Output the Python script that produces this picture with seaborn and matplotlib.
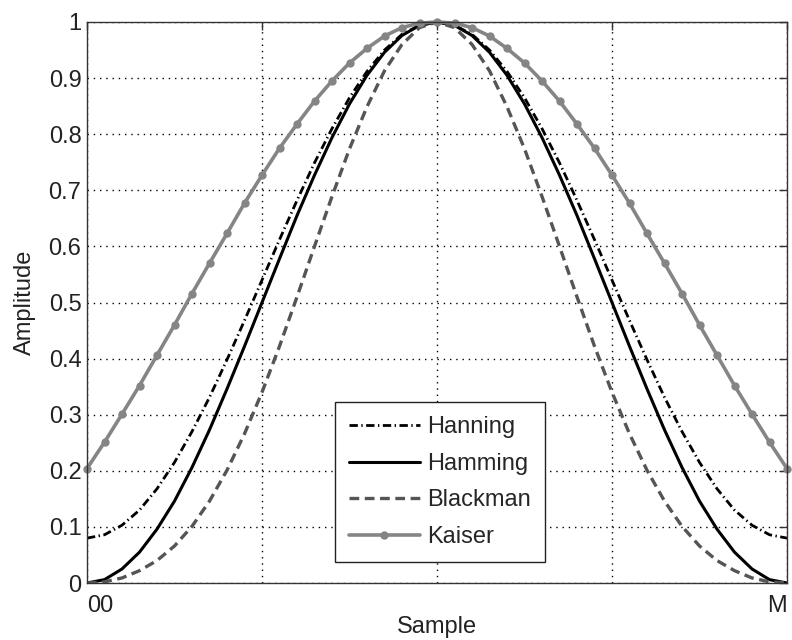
import matplotlib
matplotlib.use("Agg")
import matplotlib.pyplot as plt
import seaborn as sns
import pandas as pd

# Sample index 0..40 (x axis runs from 0 to M)
sample = list(range(41))

hanning = [0.080, 0.086, 0.103, 0.130, 0.168, 0.215, 0.270, 0.331, 0.398, 0.468,
           0.540, 0.612, 0.682, 0.749, 0.810, 0.865, 0.912, 0.950, 0.978, 0.994,
           1.000,
           0.994, 0.978, 0.950, 0.912, 0.865, 0.810, 0.749, 0.682, 0.612, 0.540,
           0.468, 0.398, 0.331, 0.270, 0.215, 0.168, 0.130, 0.103, 0.086, 0.080]

hamming = [0.000, 0.006, 0.025, 0.055, 0.096, 0.146, 0.206, 0.273, 0.346, 0.422,
           0.500, 0.578, 0.655, 0.727, 0.794, 0.854, 0.905, 0.946, 0.976, 0.994,
           1.000,
           0.994, 0.976, 0.946, 0.905, 0.854, 0.794, 0.727, 0.655, 0.578, 0.500,
           0.422, 0.346, 0.273, 0.206, 0.146, 0.096, 0.055, 0.025, 0.006, 0.000]

blackman = [0.000, 0.002, 0.009, 0.022, 0.040, 0.066, 0.101, 0.146, 0.201, 0.266,
            0.340, 0.422, 0.510, 0.600, 0.689, 0.774, 0.849, 0.913, 0.960, 0.990,
            1.000,
            0.990, 0.960, 0.913, 0.849, 0.774, 0.689, 0.600, 0.510, 0.422, 0.340,
            0.266, 0.201, 0.146, 0.101, 0.066, 0.040, 0.022, 0.009, 0.002, 0.000]

kaiser = [0.204, 0.251, 0.301, 0.352, 0.406, 0.460, 0.516, 0.570, 0.623, 0.677,
          0.727, 0.775, 0.818, 0.859, 0.895, 0.927, 0.953, 0.975, 0.990, 0.998,
          1.000,
          0.998, 0.990, 0.975, 0.953, 0.927, 0.895, 0.859, 0.818, 0.775, 0.727,
          0.677, 0.623, 0.570, 0.516, 0.460, 0.406, 0.352, 0.301, 0.251, 0.204]

x_tick_pos = [0, 10, 20, 30, 40]
x_tick_labels = ["00", "", "", "", "M"]
y_ticks = [0, 0.1, 0.2, 0.3, 0.4, 0.5, 0.6, 0.7, 0.8, 0.9, 1]
y_tick_labels = ["0", "0.1", "0.2", "0.3", "0.4", "0.5", "0.6", "0.7", "0.8", "0.9", "1"]

df = pd.DataFrame({"Sample": sample, "Hanning": hanning, "Hamming": hamming,
                   "Blackman": blackman, "Kaiser": kaiser})

sns.set_theme(style="white")
plt.rcParams["font.family"] = ["Liberation Sans", "DejaVu Sans"]
plt.rcParams["lines.scale_dashes"] = False

fig = plt.figure(figsize=(7.92, 6.4), dpi=100)
ax = fig.add_axes([87 / 792, 57 / 640, 700 / 792, 561 / 640])

sns.lineplot(data=df, x="Sample", y="Hanning", ax=ax, color="black", lw=2.0,
             linestyle=(0, (6, 2.5, 1, 2.5)), label="Hanning")
sns.lineplot(data=df, x="Sample", y="Hamming", ax=ax, color="black", lw=2.2,
             linestyle="-", label="Hamming")
sns.lineplot(data=df, x="Sample", y="Blackman", ax=ax, color="#555555", lw=2.4,
             linestyle=(0, (7, 4)), label="Blackman")
sns.lineplot(data=df, x="Sample", y="Kaiser", ax=ax, color="#858585", lw=2.6,
             linestyle="-", marker="o", markersize=6, markeredgewidth=0,
             label="Kaiser", clip_on=False)

ax.set_xlim(0, 40)
ax.set_ylim(0, 1)
ax.set_xticks(x_tick_pos)
ax.set_xticklabels(x_tick_labels)
ax.set_yticks(y_ticks)
ax.set_yticklabels(y_tick_labels)
xt = ax.get_xticklabels()
xt[0].set_horizontalalignment("left")
xt[-1].set_horizontalalignment("right")

ax.grid(True, color="black", linestyle=(0, (1, 3.5)), linewidth=1.0)
ax.tick_params(axis="both", which="both", direction="in", length=6, width=1,
               color="#333333", labelsize=17, top=True, right=True,
               labelcolor="#222222")
ax.tick_params(axis="x", pad=9)
ax.tick_params(axis="y", pad=4)
for s in ax.spines.values():
    s.set_visible(True)
    s.set_color("#333333")
    s.set_linewidth(1.0)

ax.set_xlabel("Sample", fontsize=17, labelpad=-1, color="#222222")
ax.set_ylabel("Amplitude", fontsize=17, labelpad=9, color="#222222")

leg = ax.legend(loc="lower center", bbox_to_anchor=(0.504, 0.037), fontsize=17,
                frameon=True, fancybox=False, framealpha=1, edgecolor="#222222",
                handlelength=3.0, handletextpad=0.3, labelspacing=0.62,
                borderpad=0.6, borderaxespad=0)
leg.get_frame().set_linewidth(1.0)

fig.savefig("out.png", dpi=100)
